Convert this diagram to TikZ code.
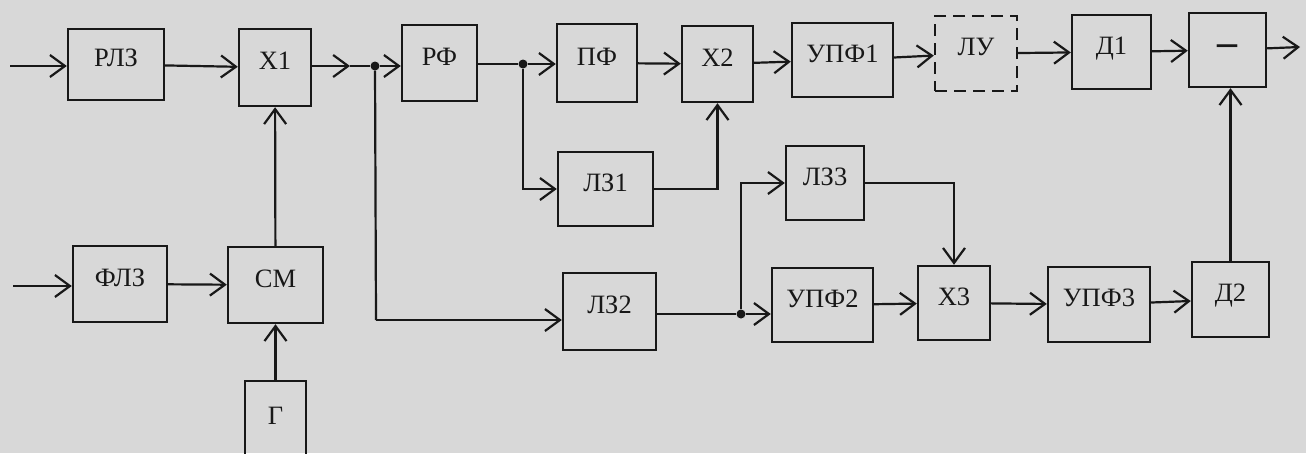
\documentclass[tikz,border=0pt]{standalone}
\usepackage{fontspec}
\setmainfont{Liberation Serif}
\usetikzlibrary{arrows.meta}
\definecolor{paper}{RGB}{216,216,216}
\definecolor{ink}{RGB}{24,24,24}
\begin{document}
\begin{tikzpicture}[x=1pt,y=-1pt,
  box/.style={draw=ink,line width=2.4pt,inner sep=0pt,text=ink,font=\fontsize{26.5}{26.5}\selectfont},
  blk/.style={box,text height=18pt,text depth=14pt},
  con/.style={draw=ink,line width=2.2pt},
  arr/.style={con,-{Straight Barb[length=15pt,width=22pt,line width=2.2pt]}},
  dot/.style={circle,fill=ink,inner sep=0pt,minimum size=9pt}]
\useasboundingbox (0,0) rectangle (1306,453);
\fill[paper] (0,0) rectangle (1306,453);
\clip (0,0) rectangle (1306,453);
% top row
\node[blk,minimum width=96pt,minimum height=71pt] (rlz) at (116,64.5) {РЛЗ};
\node[blk,minimum width=72pt,minimum height=77pt] (x1) at (275,67.5) {Х1};
\node[blk,minimum width=75pt,minimum height=76pt] (rf) at (439.5,63) {РФ};
\node[blk,minimum width=80pt,minimum height=78pt] (pf) at (597,63) {ПФ};
\node[blk,minimum width=71pt,minimum height=76pt] (x2) at (717.5,64) {Х2};
\node[blk,minimum width=101pt,minimum height=74pt] (upf1) at (842.5,60) {УПФ1};
\node[blk,dash pattern=on 12pt off 7pt,minimum width=82pt,minimum height=75pt] (lu) at (976,53.5) {ЛУ};
\node[blk,minimum width=79pt,minimum height=74pt] (d1) at (1111.5,52) {Д1};
\node[box,minimum width=77pt,minimum height=74pt,font=\fontsize{40}{40}\selectfont\bfseries] (minus) at (1227.5,50) {–};
% middle
\node[blk,minimum width=95pt,minimum height=74pt] (lz1) at (605.5,189) {ЛЗ1};
\node[blk,minimum width=78pt,minimum height=74pt] (lz3) at (825,183) {ЛЗ3};
% bottom row
\node[blk,minimum width=94pt,minimum height=76pt] (flz) at (120,284) {ФЛЗ};
\node[blk,minimum width=95pt,minimum height=76pt] (cm) at (275.5,285) {СМ};
\node[blk,minimum width=61pt,minimum height=98pt] (g) at (275.5,430) {\raisebox{8pt}{Г}};
\node[blk,minimum width=93pt,minimum height=77pt] (lz2) at (609.5,311.5) {ЛЗ2};
\node[blk,minimum width=101pt,minimum height=74pt] (upf2) at (822.5,305) {УПФ2};
\node[blk,minimum width=72pt,minimum height=74pt] (x3) at (954,303) {Х3};
\node[blk,minimum width=102pt,minimum height=75pt] (upf3) at (1099,304.5) {УПФ3};
\node[blk,minimum width=77pt,minimum height=75pt] (d2) at (1230.5,299.5) {Д2};
% coordinates and junctions
\coordinate (in1) at (10,66);
\coordinate (in2) at (13,286);
\coordinate (out) at (1300,47);
\coordinate (m1) at (350,66);
\coordinate (c1) at (376,320);
\node[dot] (j1) at (375,66) {};
\node[dot] (j2) at (523,64) {};
\node[dot] (j3) at (741,314) {};
% connectors
\draw[arr] (in1) -- (in1 -| rlz.west);
\draw[arr] (rlz) -- (x1);
\draw[arr] (x1.east |- m1) -- (m1);
\draw[con] (m1) -- (j1);
\draw[arr] (j1) -- (j1 -| rf.west);
\draw[con] (j1) -- (c1);
\draw[arr] (c1) -- (c1 -| lz2.west);
\draw[con] (rf.east |- j2) -- (j2);
\draw[arr] (j2) -- (j2 -| pf.west);
\draw[arr] (j2) |- (lz1);
\draw[arr] (pf) -- (x2);
\draw[arr] (lz1) -| (x2);
\draw[arr] (x2) -- (upf1);
\draw[arr] (upf1) -- (lu);
\draw[arr] (lu) -- (d1);
\draw[arr] (d1) -- (minus);
\draw[arr] (minus) -- (out);
\draw[arr] (d2.north) -- (d2.north |- minus.south);
\draw[arr] (in2) -- (in2 -| flz.west);
\draw[arr] (flz) -- (cm);
\draw[arr] (cm) -- (x1);
\draw[arr] (g) -- (cm);
\draw[con] (lz2.east |- j3) -- (j3);
\draw[arr] (j3) -- (j3 -| upf2.west);
\draw[arr] (j3) |- (lz3);
\draw[arr] (lz3) -| (x3);
\draw[arr] (upf2) -- (x3);
\draw[arr] (x3) -- (upf3);
\draw[arr] (upf3) -- (d2);
\end{tikzpicture}
\end{document}
